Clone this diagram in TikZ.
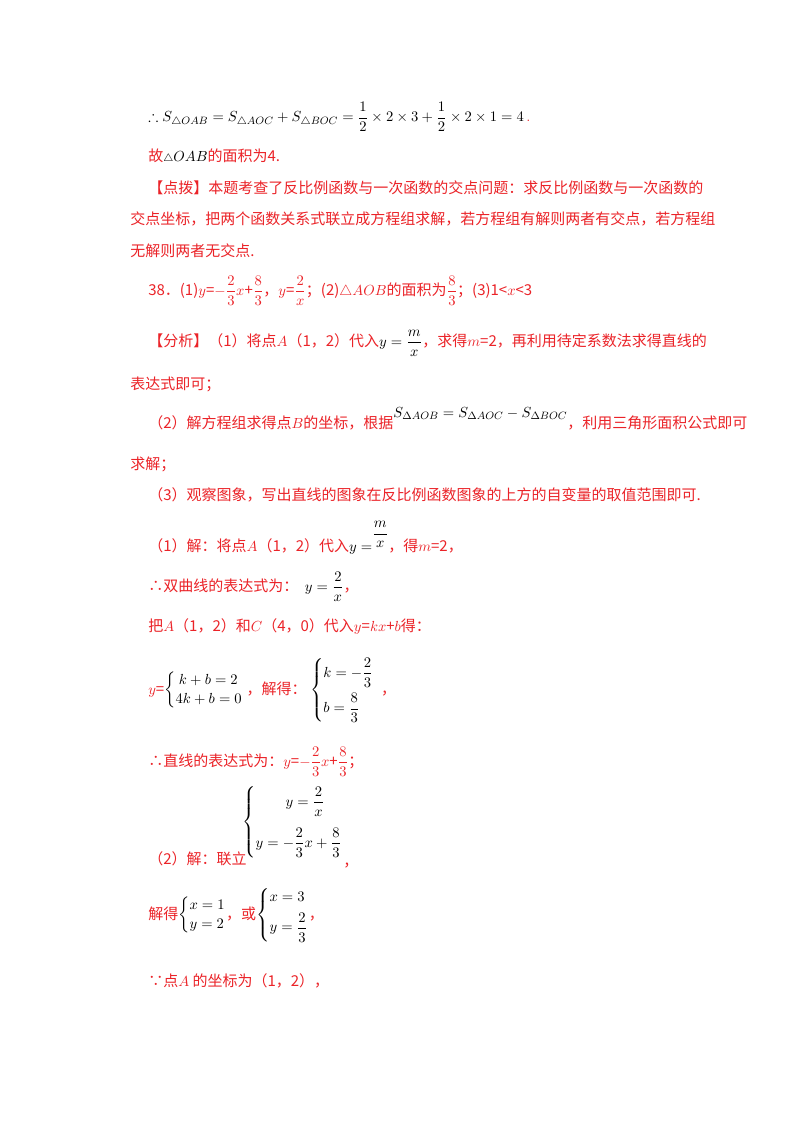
\documentclass[tikz,border=0pt]{standalone}
\usepackage{amsmath,amssymb}
\usepackage{fontspec}
\newfontfamily\cjk{Noto Sans CJK SC}
\definecolor{rd}{RGB}{235,35,40}
\newcommand{\bk}[1]{\textcolor{black}{#1}}
\newcommand{\sysb}[1]{\left\{\begin{array}{@{}l@{}}#1\end{array}\right.}
\begin{document}
\begin{tikzpicture}[x=0.75pt,y=-0.75pt,
  t/.style={anchor=base west,inner sep=0,text=rd,font=\cjk\fontsize{11.25}{14}\selectfont},
  m/.style={anchor=west,inner sep=0,text=black,font=\fontsize{11.25}{14}\selectfont}]
\useasboundingbox[fill=white] (0,0) rectangle (800,1132);
\node[m] (l1) at (148,117) {$\therefore S_{\triangle OAB}=S_{\triangle AOC}+S_{\triangle BOC}=\dfrac12\times2\times3+\dfrac12\times2\times1=4$\,\textcolor{rd}{.}};
\node[t] (l2) at (148,161) {故\bk{$\scriptstyle\triangle$$OAB$}的面积为4.};
\node[t] (l3) at (148,193) {【点拨】本题考查了反比例函数与一次函数的交点问题：求反比例函数与一次函数的};
\node[t] (l4) at (130,224) {交点坐标，把两个函数关系式联立成方程组求解，若方程组有解则两者有交点，若方程组};
\node[t] (l5) at (130,256) {无解则两者无交点.};
\node[t] (l6) at (148,295) {38．(1)$y$=$-\dfrac23x$+$\dfrac83$，$y$=$\dfrac2x$；(2)$\triangle AOB$的面积为$\dfrac83$；(3)1<$x$<3};
\node[t] (l7) at (148,346) {【分析】（1）将点$A$（1，2）代入\bk{$y=\dfrac{m}{x}$}，求得$m$=2，再利用待定系数法求得直线的};
\node[t] (l8) at (130,389) {表达式即可；};
\node[t] (l9) at (148,428) {（2）解方程组求得点$B$的坐标，根据\raisebox{8pt}{\bk{$S_{\Delta AOB}=S_{\Delta AOC}-S_{\Delta BOC}$}}，利用三角形面积公式即可};
\node[t] (l10) at (130,469) {求解；};
\node[t] (l11) at (148,500) {（3）观察图象，写出直线的图象在反比例函数图象的上方的自变量的取值范围即可.};
\node[t] (l12) at (148,551) {（1）解：将点$A$（1，2）代入\bk{$y=$\raisebox{10pt}{$\dfrac{m}{x}$}}，得$m$=2，};
\node[t] (l13) at (148,591) {\textcolor{rd}{∴}双曲线的表达式为：\ \ \bk{$y=\dfrac2x$}，};
\node[t] (l14) at (148,631) {把$A$（1，2）和$C$（4，0）代入$y$=$kx$+$b$得：};
\node[t] (l15) at (148,694) {$y$=\bk{$\sysb{\ k+b=2\\4k+b=0}$}\ ，解得：\ \bk{$\sysb{k=-\dfrac23\\[8pt] b=\dfrac83}$}\ \ ，};
\node[t] (l16) at (148,766) {\textcolor{rd}{∴}直线的表达式为：$y$=$-\dfrac23x$+$\dfrac83$；};
\node[m] (sys) at (242,822) {$\sysb{\qquad y=\dfrac2x\\[12pt] y=-\dfrac23x+\dfrac83}$};
\node[t] (l17) at (148,864) {（2）解：联立};
\node[t] (c17) at (343,866) {，};
\node[t] (l18) at (148,919) {解得\bk{$\sysb{x=1\\y=2}$}，或\bk{$\sysb{x=3\\[4pt] y=\dfrac23}$}，};
\node[t] (l19) at (148,986) {∵点$A$ 的坐标为（1，2），};
\end{tikzpicture}
\end{document}
